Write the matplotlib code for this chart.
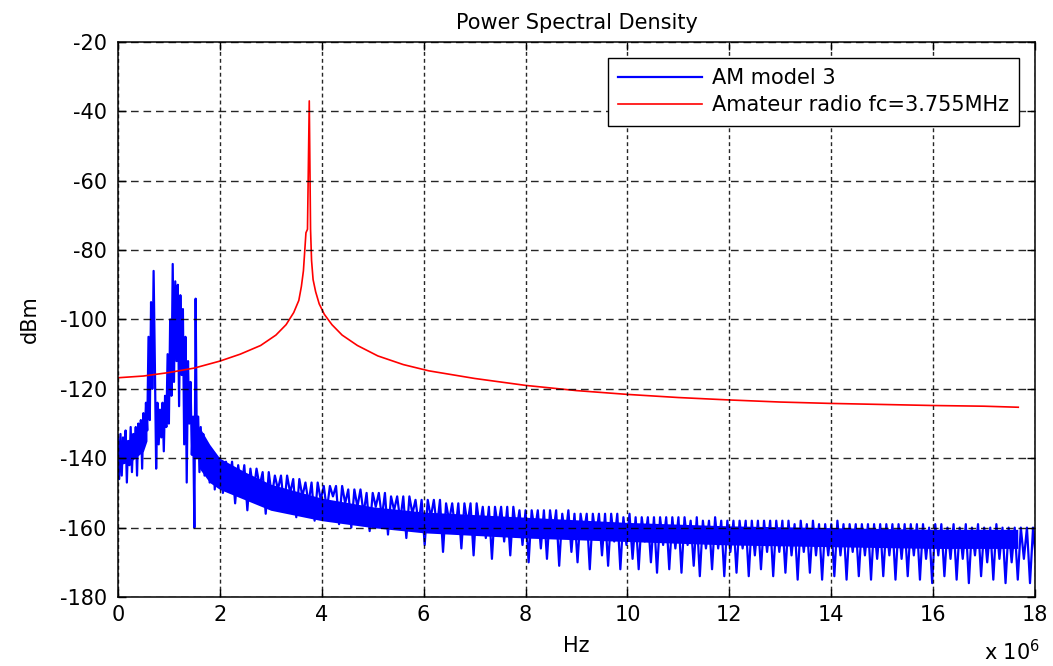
import numpy as np
import matplotlib
matplotlib.use("Agg")
import matplotlib.pyplot as plt

plt.rcParams['font.family'] = ['DejaVu Sans']

# red trace: amateur radio carrier, frequency in MHz / level in dBm
red_f = [0, 0.5, 1.0, 1.5, 2.0, 2.4, 2.8, 3.1, 3.3, 3.45, 3.55, 3.6, 3.64, 3.69, 3.72,
         3.755, 3.78, 3.80, 3.83, 3.88, 3.95, 4.05, 4.2, 4.4, 4.7, 5.1, 5.6, 6.1, 7.0,
         8.0, 9.0, 10.0, 11.0, 12.0, 13.0, 14.0, 15.0, 16.0, 17.0, 17.67]
red_db = [-116.8, -116.3, -115.3, -114, -112, -110, -107.5, -104.5, -101.5, -98, -94.5,
          -90.5, -86, -75, -74, -37, -74, -83, -88.5, -92, -95.5, -98.5, -101.5, -104.5,
          -107.5, -110.5, -113, -114.8, -117, -119, -120.5, -121.6, -122.5, -123.2,
          -123.8, -124.2, -124.5, -124.8, -125, -125.3]

# blue trace, 0 - 2 MHz, one value every 0.025 MHz
blue_low_step = 0.025
blue_low_db = [-134, -146, -133, -145, -134, -141, -132, -147, -135, -142,
               -131, -144, -133, -139, -131, -145, -130, -138, -129, -143,
               -127, -135, -124, -132, -105, -129, -95, -120, -86, -113,
               -143, -124, -136, -126, -134, -124, -138, -122, -131, -110,
               -130, -100, -122, -84, -118, -89, -112, -90, -125, -93,
               -116, -97, -136, -105, -147, -112, -130, -118, -139, -128,
               -160, -94, -140, -128, -144, -131, -141, -133, -145, -135,
               -143, -137, -147, -138, -146, -139, -149, -140, -148, -141]

# blue trace, from 2 MHz on, one value every 0.06 MHz (peak / dip alternating)
blue_high_start = 2.0
blue_high_step = 0.06
blue_high_db = [
    -140, -150, -141, -147, -141, -153, -142, -149, -142, -155, -143, -150, -143, -148, -144, -156, -144, -151, -145, -149,
    -145, -154, -145, -150, -146, -157, -146, -151, -147, -153, -147, -158, -147, -152, -148, -155, -148, -151, -148, -159,
    -148, -153, -149, -160, -149, -154, -149, -156, -150, -161, -150, -154, -150, -157, -150, -162, -151, -155, -151, -158,
    -151, -163, -151, -156, -152, -159, -152, -165, -152, -157, -152, -160, -152, -167, -153, -158, -153, -161, -153, -166,
    -153, -159, -153, -168, -153, -160, -154, -163, -154, -169, -154, -160, -154, -164, -154, -168, -154, -161, -155, -165,
    -155, -170, -155, -161, -155, -166, -155, -169, -155, -162, -155, -171, -156, -163, -155, -167, -156, -170, -156, -162,
    -156, -172, -156, -163, -156, -168, -156, -171, -156, -164, -156, -172, -157, -165, -156, -169, -157, -172, -157, -164,
    -157, -170, -157, -173, -157, -165, -157, -172, -157, -166, -157, -173, -157, -165, -158, -171, -157, -174, -158, -166,
    -158, -172, -157, -166, -158, -174, -158, -167, -158, -173, -158, -166, -158, -174, -158, -168, -158, -172, -158, -167,
    -158, -174, -158, -167, -158, -173, -158, -168, -159, -175, -158, -167, -159, -173, -158, -168, -159, -175, -159, -168,
    -159, -174, -158, -168, -159, -175, -159, -167, -159, -174, -159, -168, -159, -175, -159, -169, -159, -174, -159, -168,
    -159, -175, -159, -169, -159, -174, -159, -168, -159, -175, -159, -169, -160, -176, -159, -168, -159, -174, -160, -169,
    -159, -175, -160, -169, -159, -176, -160, -168, -159, -174, -160, -170, -160, -175, -159, -169, -160, -176, -160, -170,
    -160, -175, -160, -169, -160, -176, -160, -170, -160, -175, -160, -169, -160, -176, -160, -170, -160, -175, -160, -171,
    -160, -176, -160, -170, -160, -175, -160, -169, -160, -176, -161, -171, -160, -175, -160, -170, -161, -176, -160, -170,
    -160, -175, -161, -171, -160, -176, -160, -170, -161, -176, -160, -171, -161, -175, -160, -170, -161, -176, -160, -171,
    -161, -176, -160, -170, -161, -177, -160, -171, -161, -175, -161, -170, -161, -176, -160, -171, -161, -177, -161, -170,
    -161, -176, -161, -171, -160, -177, -161, -170, -161, -176, -161, -172, -161, -177, -161, -170, -161, -176, -161, -171,
    -160, -177, -161, -171, -160, -176, -161, -172, -160, -177, -161, -170, -160, -176, -161, -171, -160, -177, -161, -172,
    -161, -176, -160, -171, -161, -177, -160, -172, -161, -176, -160, -171, -161, -177, -160, -170, -161, -176, -160, -172,
    -160, -177, -161, -171, -160, -176, -161, -172, -160, -177, -161, -171, -160, -176, -161, -172, -160, -177, -161, -171,
    -161, -176, -160, -172, -161, -177, -160, -171, -161, -176, -160, -172, -161, -177, -160, -171, -161, -176, -160, -172,
    -160, -177, -161, -171, -160, -176, -161, -172, -160, -177, -161, -171, -160, -176, -161, -172, -160, -177, -161, -171,
    -161, -176, -160, -172, -161, -177, -160, -171, -161, -176, -160, -172, -161, -177, -160, -171, -161, -176, -160, -172,
    -160, -177, -161, -171, -160, -176, -161, -172, -160, -177, -161, -171, -160, -176, -161, -172, -160, -177, -161, -171,
    -161, -176, -160, -172, -161, -177, -160, -171, -161, -176, -160, -172, -161, -177, -160, -171, -161, -176, -160, -172,
    -160, -165,
]

# solid part of the blue noise, below the first carriers (MHz / dBm)
band0_f = [0, 0.25, 0.5, 0.57]
band0_top = [-136, -135, -132, -130]
band0_bottom = [-142, -141, -138, -135]

# solid part of the blue noise band above 1.6 MHz (top / bottom edge)
band_f = [1.6, 1.8, 2.0, 2.5, 3.0, 4.0, 5.0, 6.0, 8.0, 10.0, 12.0, 14.0, 16.0, 17.66]
band_top = [-131, -136, -140, -144, -147.5, -151.5, -154, -155.5, -157, -158.5,
            -159.5, -160, -160.5, -160.5]
band_bottom = [-143, -147, -149, -152, -155, -158, -160, -161.5, -163, -164, -165,
               -165.5, -166, -166]

x_ticks = [0, 2, 4, 6, 8, 10, 12, 14, 16, 18]
y_ticks = [-180, -160, -140, -120, -100, -80, -60, -40, -20]

blue_f = np.concatenate([np.arange(len(blue_low_db)) * blue_low_step,
                         blue_high_start + np.arange(len(blue_high_db)) * blue_high_step])
blue_db = np.array(blue_low_db + blue_high_db)

fig = plt.figure(figsize=(10.53, 6.66), dpi=100)
ax = fig.add_axes([0.112, 0.1036, 0.871, 0.8334])

ax.fill_between(np.array(band0_f) * 1e6, band0_bottom, band0_top, color=(0, 0, 1), lw=0)
ax.fill_between(np.array(band_f) * 1e6, band_bottom, band_top, color=(0, 0, 1), lw=0)
ax.plot(blue_f * 1e6, blue_db, color=(0, 0, 1), lw=1.6, label='AM model 3')
ax.plot(np.array(red_f) * 1e6, red_db, color=(1, 0, 0), lw=1.2,
        label='Amateur radio fc=3.755MHz')

ax.set_xlim(0, 18e6)
ax.set_ylim(-180, -20)
ax.set_xticks([t * 1e6 for t in x_ticks])
ax.set_xticklabels([str(t) for t in x_ticks])
ax.set_yticks(y_ticks)
ax.set_yticklabels([str(t) for t in y_ticks])

ax.tick_params(direction='in', length=6, width=1, labelsize=15, top=True, right=True,
               colors='black')
ax.tick_params(axis='y', pad=8)
ax.tick_params(axis='x', pad=6)
for s in ax.spines.values():
    s.set_linewidth(1.1)

ax.set_axisbelow(False)
ax.grid(True, axis='y', color='black', lw=1.0, dashes=(5.5, 3.5), alpha=0.85)
ax.grid(True, axis='x', color='black', lw=1.0, dashes=(2.8, 2.2), alpha=0.85)

ax.set_title('Power Spectral Density', fontsize=15, pad=9)
ax.set_xlabel('Hz', fontsize=15, labelpad=8)
ax.set_ylabel('dBm', fontsize=15, labelpad=14)
ax.text(1.006, -0.098, r'x 10$^{6}$', transform=ax.transAxes, ha='right', va='center',
        fontsize=15)

leg = ax.legend(loc='upper right', fontsize=15, handlelength=4.0, handletextpad=0.5,
                labelspacing=0.35, borderpad=0.5, borderaxespad=0.75, fancybox=False,
                framealpha=1, edgecolor='black')
leg.get_frame().set_linewidth(1.0)

fig.savefig('out.png', dpi=100)
